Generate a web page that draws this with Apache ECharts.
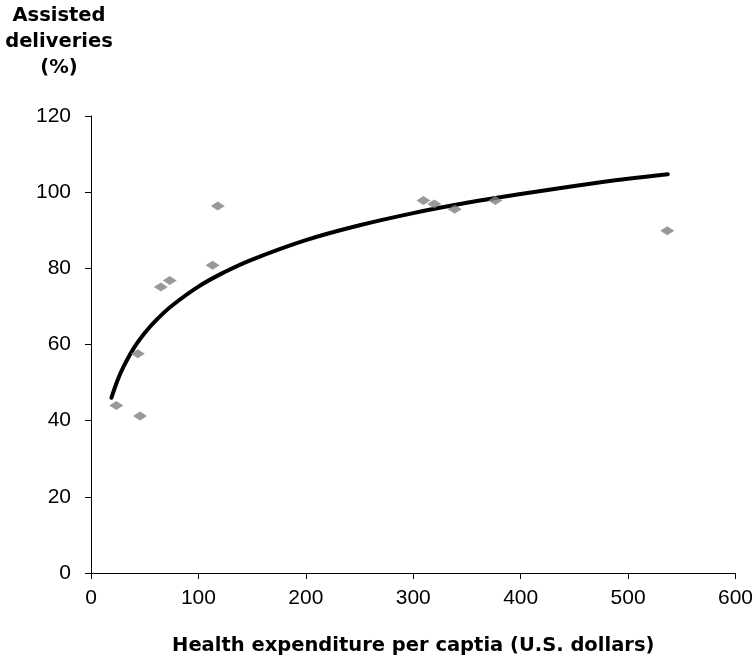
<!DOCTYPE html>
<html>
<head>
<meta charset="utf-8">
<script src="https://cdn.jsdelivr.net/npm/echarts@6/dist/echarts.min.js"></script>
<style>
  html, body { margin: 0; padding: 0; background: #fff; overflow: hidden; }
  #chart { width: 756px; height: 661px; }
</style>
</head>
<body>
<div id="chart"></div>
<script>
// Health expenditure per capita (US$) vs. share of assisted deliveries (%)
const spending = [23.6, 45.7, 43.6, 65, 73.3, 113.2, 118.1, 309.5, 319.6, 338.6, 376.4, 536.5];
const delivered = [44.0, 41.2, 57.6, 75.1, 76.8, 80.8, 96.4, 97.8, 96.9, 95.5, 97.8, 89.9];

// Logarithmic trend line, sampled along its length
const trendX = [19, 25, 30, 40, 50, 60, 75, 100, 125, 150, 200, 250, 300, 350, 400, 450, 500, 537];
const trendY = [46.0, 50.8, 54.0, 59.1, 63.0, 66.2, 70.1, 75.2, 79.1, 82.3, 87.4, 91.3, 94.5, 97.2, 99.5, 101.6, 103.5, 104.7];

const xTicks = [0, 100, 200, 300, 400, 500, 600];
const yTicks = [0, 20, 40, 60, 80, 100, 120];

const BOLD_FONT = '"DejaVu Sans", sans-serif';
const TICK_FONT = '"Liberation Sans", Arial, sans-serif';

const chart = echarts.init(document.getElementById('chart'), null, { renderer: 'canvas' });

chart.setOption({
  animation: false,
  backgroundColor: '#ffffff',
  grid: { left: 91, right: 13, top: 116, bottom: 87, containLabel: false },
  graphic: [{
    type: 'text',
    x: 59,
    y: 3,
    style: {
      text: 'Assisted\ndeliveries\n(%)',
      fill: '#000',
      font: 'bold 19.5px ' + BOLD_FONT,
      textAlign: 'center',
      textVerticalAlign: 'top',
      lineHeight: 26
    }
  }],
  xAxis: {
    type: 'value',
    min: xTicks[0],
    max: xTicks[xTicks.length - 1],
    interval: 100,
    name: 'Health expenditure per captia (U.S. dollars)',
    nameLocation: 'middle',
    nameGap: 63,
    nameTextStyle: { color: '#000', fontFamily: BOLD_FONT, fontWeight: 'bold', fontSize: 19.5 },
    axisLine: { show: true, lineStyle: { color: '#000', width: 1 } },
    axisTick: { show: true, inside: false, length: 6, lineStyle: { color: '#000' } },
    axisLabel: { color: '#000', fontFamily: TICK_FONT, fontSize: 21, margin: 15 },
    splitLine: { show: false }
  },
  yAxis: {
    type: 'value',
    min: yTicks[0],
    max: yTicks[yTicks.length - 1],
    interval: 20,
    axisLine: { show: true, lineStyle: { color: '#000', width: 1 } },
    axisTick: { show: true, inside: false, length: 6, lineStyle: { color: '#000' } },
    axisLabel: { color: '#000', fontFamily: TICK_FONT, fontSize: 21, margin: 20 },
    splitLine: { show: false }
  },
  series: [
    {
      type: 'line',
      data: trendX.map((x, i) => [x, trendY[i]]),
      smooth: 0.4,
      showSymbol: false,
      lineStyle: { color: '#000', width: 4, cap: 'round' },
      z: 2
    },
    {
      type: 'scatter',
      data: spending.map((x, i) => [x, delivered[i]]),
      symbol: 'diamond',
      symbolSize: [14, 9],
      itemStyle: { color: '#808080' },
      z: 3
    }
  ]
});
</script>
</body>
</html>
